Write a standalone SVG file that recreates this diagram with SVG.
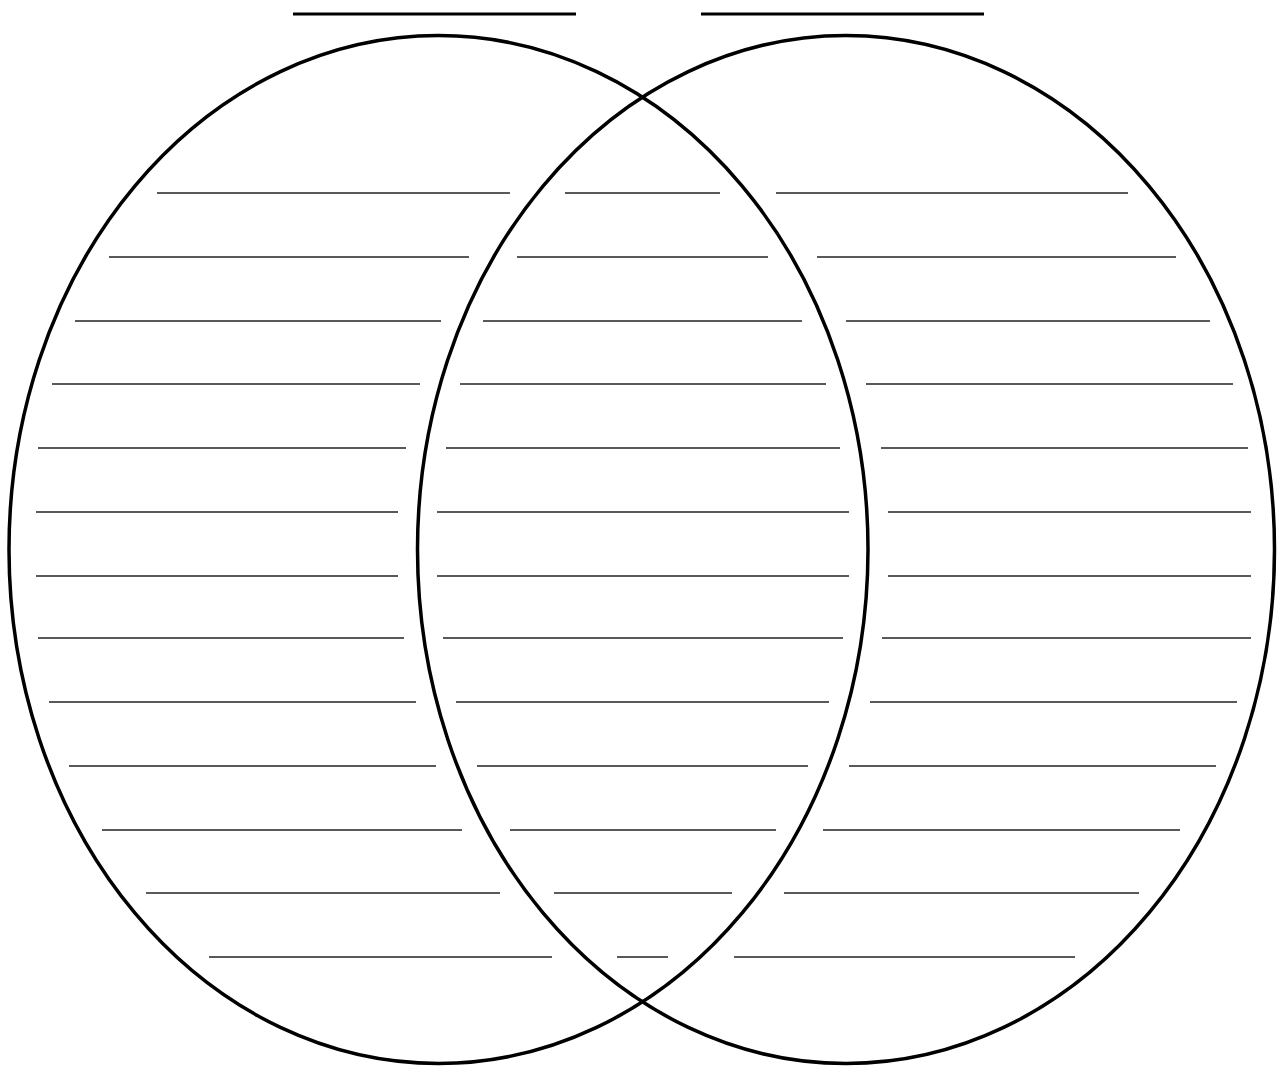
<svg xmlns="http://www.w3.org/2000/svg" width="1285" height="1068" viewBox="0 0 1285 1068">
<style>
.circle{fill:none;stroke:#000;stroke-width:3.5}
.title{stroke:#000;stroke-width:3}
.rule{stroke:#222;stroke-width:1.7}
</style>
<rect width="1285" height="1068" fill="#fff"/>
<g id="title-lines">
<line class="title" x1="293" y1="14" x2="576" y2="14"/>
<line class="title" x1="701" y1="14" x2="984" y2="14"/>
</g>
<g id="left-circle"><ellipse class="circle" cx="438.5" cy="549.5" rx="429.5" ry="514"/></g>
<g id="right-circle"><ellipse class="circle" cx="846" cy="549.5" rx="428.5" ry="514"/></g>
<g id="rules">
<line class="rule" x1="157" y1="193" x2="510" y2="193"/><line class="rule" x1="565" y1="193" x2="720" y2="193"/><line class="rule" x1="776" y1="193" x2="1128" y2="193"/>
<line class="rule" x1="109" y1="257" x2="469" y2="257"/><line class="rule" x1="517" y1="257" x2="768" y2="257"/><line class="rule" x1="817" y1="257" x2="1176" y2="257"/>
<line class="rule" x1="75" y1="321" x2="441" y2="321"/><line class="rule" x1="483" y1="321" x2="802" y2="321"/><line class="rule" x1="846" y1="321" x2="1210" y2="321"/>
<line class="rule" x1="52" y1="384" x2="420" y2="384"/><line class="rule" x1="460" y1="384" x2="826" y2="384"/><line class="rule" x1="866" y1="384" x2="1233" y2="384"/>
<line class="rule" x1="38" y1="448" x2="406" y2="448"/><line class="rule" x1="446" y1="448" x2="840" y2="448"/><line class="rule" x1="881" y1="448" x2="1248" y2="448"/>
<line class="rule" x1="36" y1="512" x2="398" y2="512"/><line class="rule" x1="437" y1="512" x2="849" y2="512"/><line class="rule" x1="888" y1="512" x2="1251" y2="512"/>
<line class="rule" x1="36" y1="576" x2="398" y2="576"/><line class="rule" x1="437" y1="576" x2="849" y2="576"/><line class="rule" x1="888" y1="576" x2="1251" y2="576"/>
<line class="rule" x1="38" y1="638" x2="404" y2="638"/><line class="rule" x1="443" y1="638" x2="843" y2="638"/><line class="rule" x1="882" y1="638" x2="1251" y2="638"/>
<line class="rule" x1="49" y1="702" x2="416" y2="702"/><line class="rule" x1="456" y1="702" x2="829" y2="702"/><line class="rule" x1="870" y1="702" x2="1237" y2="702"/>
<line class="rule" x1="69" y1="766" x2="436" y2="766"/><line class="rule" x1="477" y1="766" x2="808" y2="766"/><line class="rule" x1="849" y1="766" x2="1216" y2="766"/>
<line class="rule" x1="102" y1="830" x2="462" y2="830"/><line class="rule" x1="510" y1="830" x2="776" y2="830"/><line class="rule" x1="823" y1="830" x2="1180" y2="830"/>
<line class="rule" x1="146" y1="893" x2="500" y2="893"/><line class="rule" x1="554" y1="893" x2="732" y2="893"/><line class="rule" x1="784" y1="893" x2="1139" y2="893"/>
<line class="rule" x1="209" y1="957" x2="552" y2="957"/><line class="rule" x1="617" y1="957" x2="668" y2="957"/><line class="rule" x1="734" y1="957" x2="1075" y2="957"/>
</g>
</svg>
